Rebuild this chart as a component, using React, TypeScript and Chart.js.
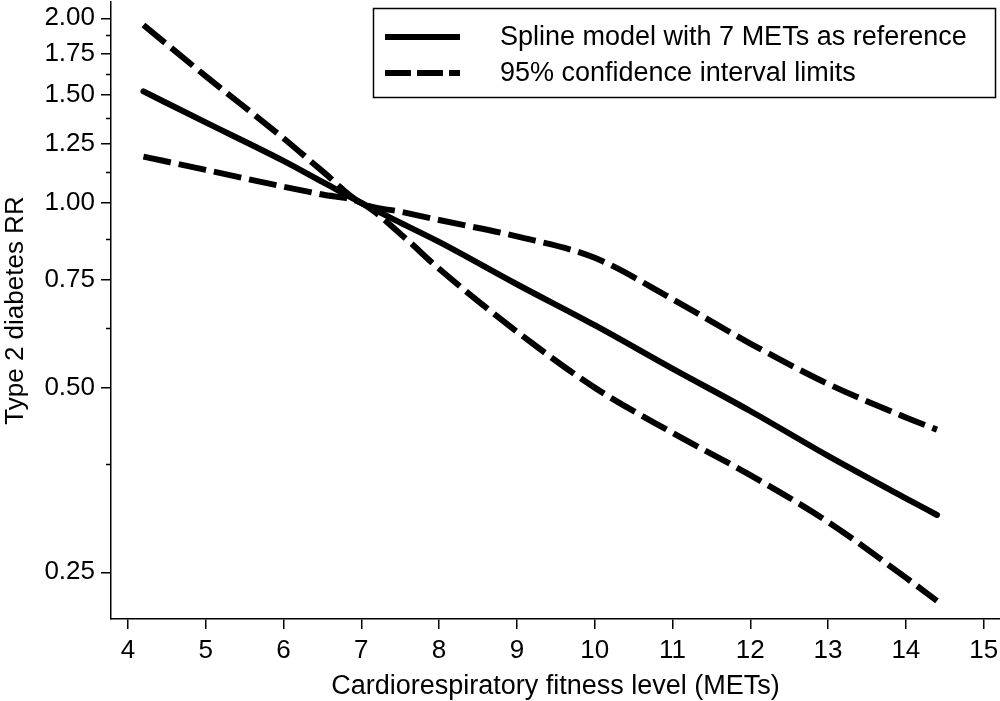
import React, { useEffect, useRef } from 'react';
import { Chart, registerables } from 'chart.js';

Chart.register(...registerables);

const METS = [4.2, 5, 6, 6.5, 7, 7.5, 8, 9, 10, 11, 12, 13, 14, 14.4];
const SPLINE_RR = [1.52, 1.353, 1.171, 1.082, 1.0, 0.929, 0.864, 0.737, 0.632, 0.537, 0.458, 0.387, 0.33, 0.31];
const UPPER_CI = [1.95, 1.61, 1.275, 1.127, 1.0, 0.968, 0.938, 0.882, 0.814, 0.697, 0.59, 0.507, 0.447, 0.427];
const LOWER_CI = [1.19, 1.132, 1.063, 1.032, 1.0, 0.891, 0.781, 0.617, 0.5, 0.422, 0.36, 0.302, 0.245, 0.2246];

const X_TICKS = [4, 5, 6, 7, 8, 9, 10, 11, 12, 13, 14, 15];
const Y_TICKS = [0.25, 0.5, 0.75, 1.0, 1.25, 1.5, 1.75, 2.0];
const Y_MINOR = [0.375, 0.625, 0.875, 1.125, 1.375, 1.625, 1.875];

const LEGEND_LABELS = ['Spline model with 7 METs as reference', '95% confidence interval limits'];
const X_TITLE = 'Cardiorespiratory fitness level (METs)';
const Y_TITLE = 'Type 2 diabetes RR';

const FONT = '"Liberation Sans", Arial, Helvetica, sans-serif';
const DASH = [28, 8];

const minorTicksPlugin = {
  id: 'minorTicks',
  afterDraw(chart: any) {
    const y = chart.scales.y;
    const ctx = chart.ctx;
    ctx.save();
    ctx.strokeStyle = '#000';
    ctx.lineWidth = 1.5;
    Y_MINOR.forEach((v) => {
      const py = Math.round(y.getPixelForValue(v)) + 0.5;
      ctx.beginPath();
      ctx.moveTo(y.right - 5, py);
      ctx.lineTo(y.right, py);
      ctx.stroke();
    });
    ctx.restore();
  },
};

const boxLegendPlugin = {
  id: 'boxLegend',
  afterDraw(chart: any) {
    const ctx = chart.ctx;
    ctx.save();
    ctx.fillStyle = '#fff';
    ctx.fillRect(373, 8, 623, 89);
    ctx.strokeStyle = '#000';
    ctx.lineWidth = 1.5;
    ctx.strokeRect(373.5, 8.5, 622, 89);
    const rows = [37, 73];
    ctx.lineWidth = 6;
    ctx.lineCap = 'butt';
    rows.forEach((ry, i) => {
      ctx.setLineDash(i === 0 ? [] : [26, 6]);
      ctx.beginPath();
      ctx.moveTo(385, ry);
      ctx.lineTo(460, ry);
      ctx.stroke();
    });
    ctx.setLineDash([]);
    ctx.fillStyle = '#000';
    ctx.font = `27px ${FONT}`;
    ctx.textBaseline = 'middle';
    ctx.textAlign = 'left';
    rows.forEach((ry, i) => {
      ctx.fillText(LEGEND_LABELS[i], 500, ry + 1);
    });
    ctx.restore();
  },
};

export default function App() {
  const canvasRef = useRef<HTMLCanvasElement | null>(null);

  useEffect(() => {
    if (!canvasRef.current) return;
    const lineBase = {
      borderColor: '#000',
      borderWidth: 6,
      pointRadius: 0,
      fill: false,
      cubicInterpolationMode: 'monotone' as const,
      borderCapStyle: 'butt' as const,
    };
    const chart = new Chart(canvasRef.current, {
      type: 'line',
      data: {
        datasets: [
          {
            ...lineBase,
            label: LEGEND_LABELS[0],
            data: METS.map((x, i) => ({ x, y: SPLINE_RR[i] })),
            borderCapStyle: 'round' as const,
          },
          {
            ...lineBase,
            label: LEGEND_LABELS[1],
            data: METS.map((x, i) => ({ x, y: UPPER_CI[i] })),
            borderDash: DASH,
          },
          {
            ...lineBase,
            label: LEGEND_LABELS[1] + ' (lower)',
            data: METS.map((x, i) => ({ x, y: LOWER_CI[i] })),
            borderDash: DASH,
          },
        ],
      },
      options: {
        animation: false,
        responsive: true,
        maintainAspectRatio: false,
        layout: { padding: { top: 2, left: 0, right: 0, bottom: 0 } },
        plugins: {
          legend: { display: false },
          tooltip: { enabled: false },
        },
        scales: {
          x: {
            type: 'linear',
            min: 3.783,
            max: 15.21,
            afterBuildTicks: (scale: any) => {
              scale.ticks = X_TICKS.map((v) => ({ value: v }));
            },
            afterFit: (scale: any) => {
              scale.height = 82;
              scale.paddingLeft = 0;
              scale.paddingRight = 0;
            },
            ticks: {
              color: '#000',
              font: { family: FONT, size: 26, lineHeight: 1 },
              padding: 9,
              maxRotation: 0,
              autoSkip: false,
              callback: (v: any) => String(v),
            },
            grid: {
              drawOnChartArea: false,
              drawTicks: true,
              tickLength: 10,
              color: '#000',
              lineWidth: 1.5,
            },
            border: { color: '#000', width: 1.5 },
            title: {
              display: true,
              text: X_TITLE,
              color: '#000',
              font: { family: FONT, size: 27, lineHeight: 1 },
              padding: { top: 0, bottom: 1 },
            },
          },
          y: {
            type: 'logarithmic',
            min: 0.2098,
            max: 2.126,
            afterBuildTicks: (scale: any) => {
              scale.ticks = Y_TICKS.map((v) => ({ value: v }));
            },
            afterFit: (scale: any) => {
              scale.width = 111;
              scale.paddingTop = 0;
              scale.paddingBottom = 0;
            },
            ticks: {
              color: '#000',
              font: { family: FONT, size: 26 },
              padding: 6,
              autoSkip: false,
              callback: (v: any) => Number(v).toFixed(2),
            },
            grid: {
              drawOnChartArea: false,
              drawTicks: true,
              tickLength: 10,
              color: '#000',
              lineWidth: 1.5,
            },
            border: { color: '#000', width: 1.5 },
            title: {
              display: true,
              text: Y_TITLE,
              color: '#000',
              font: { family: FONT, size: 26 },
              padding: { top: 0, bottom: 0 },
            },
          },
        },
      },
      plugins: [minorTicksPlugin, boxLegendPlugin],
    });
    return () => chart.destroy();
  }, []);

  return (
    <div style={{ position: 'absolute', left: 0, top: 0, width: 1000, height: 701, background: '#fff' }}>
      <canvas ref={canvasRef} />
    </div>
  );
}
